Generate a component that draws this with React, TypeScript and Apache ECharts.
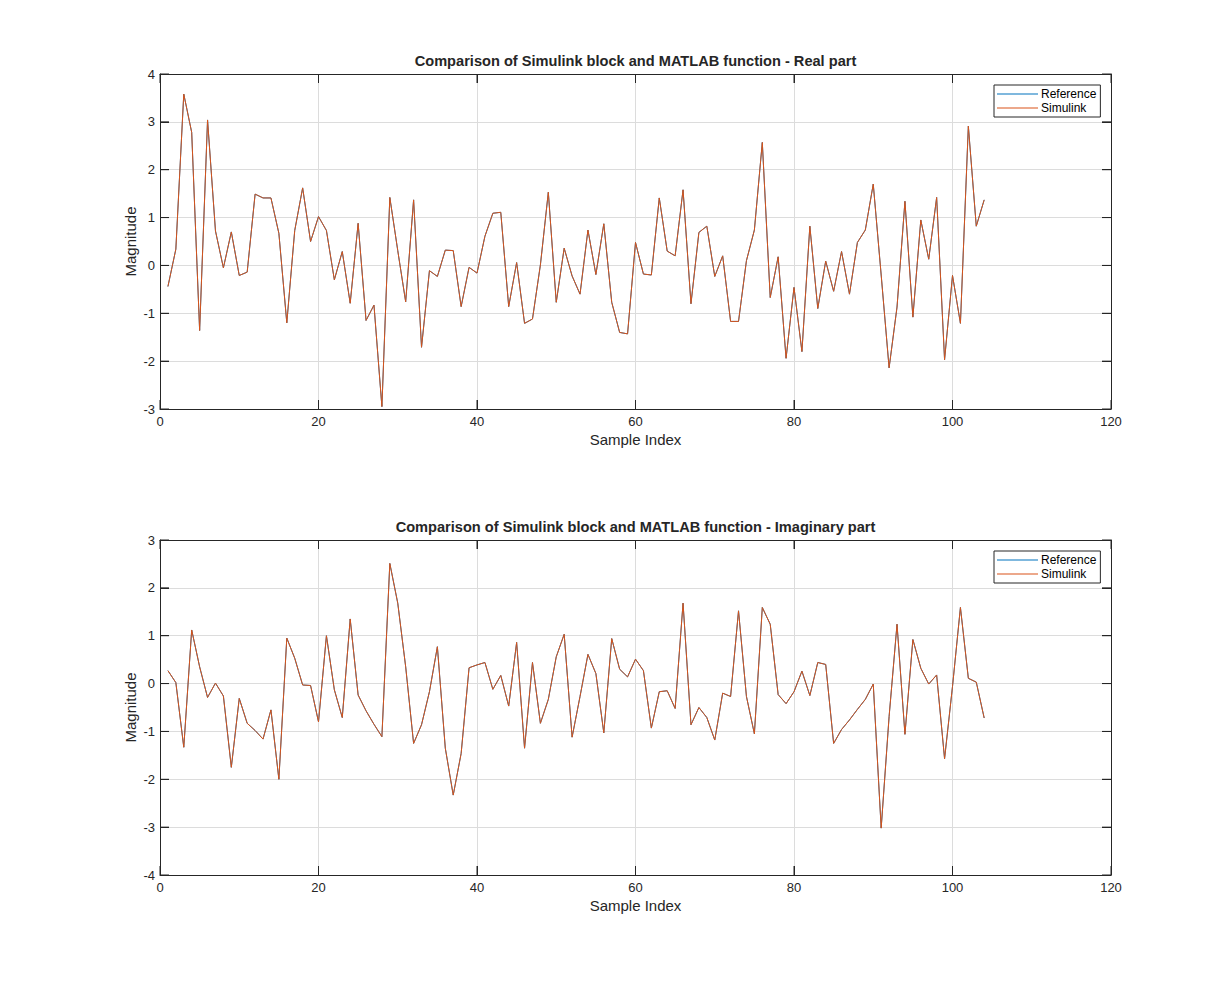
import { useEffect, useRef } from 'react';
import * as echarts from 'echarts';

// sample values (index 1..104)
const realPart = [
  -0.44, 0.34, 3.58, 2.78, -1.36, 3.04, 0.72, -0.05, 0.7, -0.21,
  -0.14, 1.49, 1.41, 1.41, 0.67, -1.2, 0.73, 1.62, 0.5, 1.02,
  0.73, -0.3, 0.29, -0.79, 0.88, -1.15, -0.83, -2.95, 1.42, 0.31,
  -0.76, 1.37, -1.71, -0.11, -0.23, 0.32, 0.31, -0.86, -0.04, -0.16,
  0.61, 1.09, 1.11, -0.86, 0.06, -1.21, -1.12, 0.01, 1.53, -0.77,
  0.36, -0.22, -0.6, 0.74, -0.19, 0.87, -0.77, -1.4, -1.43, 0.48,
  -0.18, -0.2, 1.41, 0.3, 0.2, 1.58, -0.8, 0.69, 0.82, -0.23,
  0.2, -1.17, -1.17, 0.1, 0.74, 2.57, -0.67, 0.18, -1.94, -0.46,
  -1.8, 0.82, -0.9, 0.09, -0.54, 0.29, -0.6, 0.48, 0.74, 1.7,
  -0.2, -2.14, -0.87, 1.34, -1.08, 0.95, 0.13, 1.42, -1.97, -0.21,
  -1.21, 2.91, 0.82, 1.37,
];

const imagPart = [
  0.27, 0.02, -1.33, 1.12, 0.35, -0.29, 0.01, -0.26, -1.75, -0.31,
  -0.83, -0.98, -1.16, -0.55, -2.0, 0.95, 0.53, -0.03, -0.04, -0.8,
  1.0, -0.13, -0.71, 1.35, -0.24, -0.57, -0.85, -1.11, 2.51, 1.68,
  0.35, -1.25, -0.86, -0.17, 0.77, -1.35, -2.33, -1.46, 0.33, 0.39,
  0.44, -0.12, 0.17, -0.47, 0.86, -1.35, 0.44, -0.83, -0.33, 0.56,
  1.03, -1.12, -0.27, 0.61, 0.21, -1.03, 0.94, 0.3, 0.14, 0.51,
  0.27, -0.93, -0.17, -0.15, -0.52, 1.68, -0.86, -0.5, -0.71, -1.18,
  -0.2, -0.27, 1.52, -0.27, -1.05, 1.59, 1.24, -0.23, -0.42, -0.17,
  0.26, -0.25, 0.44, 0.4, -1.25, -0.96, -0.76, -0.54, -0.33, -0.01,
  -3.02, -0.69, 1.24, -1.06, 0.92, 0.32, -0.01, 0.18, -1.57, -0.06,
  1.59, 0.11, 0.03, -0.72,
];

const titles = [
  'Comparison of Simulink block and MATLAB function - Real part',
  'Comparison of Simulink block and MATLAB function - Imaginary part',
];
const xTicks = [0, 20, 40, 60, 80, 100, 120];
const yTicks = [
  [-3, -2, -1, 0, 1, 2, 3, 4],
  [-4, -3, -2, -1, 0, 1, 2, 3],
];
const legendNames = ['Reference', 'Simulink'];
const seriesColors = ['#0072BD', '#D95319'];

const FONT = '"Liberation Sans", Arial, Helvetica, sans-serif';
const INK = '#262626';
const GRID_TOPS = [74, 540];
const GRID_LEFT = 160;
const GRID_W = 951;
const GRID_H = 335;
const TICK_LEN = 9;

const mkTick = () => ({ show: true, inside: true, length: TICK_LEN, lineStyle: { color: INK, width: 1 } });
const mkLine = () => ({ show: true, onZero: false, lineStyle: { color: INK, width: 1 } });
const off = () => ({ show: false });

export default function App() {
  const ref = useRef<HTMLDivElement>(null);

  useEffect(() => {
    if (!ref.current) return;
    const chart = echarts.init(ref.current, undefined, { renderer: 'svg' });
    const sets = [realPart, imagPart];
    const xMin = xTicks[0];
    const xMax = xTicks[xTicks.length - 1];

    // grids 0,1 only carry the light gridlines (drawn first, underneath);
    // grids 2,3 are the same rectangles with the box, ticks, labels and data
    const grids = [...GRID_TOPS, ...GRID_TOPS].map((top) => ({
      left: GRID_LEFT,
      top,
      width: GRID_W,
      height: GRID_H,
    }));

    const label = { color: INK, fontSize: 13, fontFamily: FONT };
    const nameStyle = { color: INK, fontSize: 15, fontFamily: FONT };

    const xAxis: any[] = [];
    const yAxis: any[] = [];

    GRID_TOPS.forEach((_, g) => {
      const yt = yTicks[g];
      xAxis.push({
        type: 'value', min: xMin, max: xMax, interval: 20, gridIndex: g, z: 0,
        axisLine: off(), axisTick: off(), axisLabel: off(),
        splitLine: { show: true, lineStyle: { color: '#dcdcdc', width: 1 } },
      });
      yAxis.push({
        type: 'value', min: yt[0], max: yt[yt.length - 1], interval: 1, gridIndex: g, z: 0,
        axisLine: off(), axisTick: off(), axisLabel: off(),
        splitLine: { show: true, lineStyle: { color: '#dcdcdc', width: 1 } },
      });
    });

    GRID_TOPS.forEach((_, g) => {
      const yt = yTicks[g];
      const gi = g + 2;
      xAxis.push({
        type: 'value', min: xMin, max: xMax, interval: 20, gridIndex: gi, position: 'bottom', z: 4,
        name: 'Sample Index',
        nameLocation: 'middle',
        nameGap: 23,
        nameTextStyle: { ...nameStyle },
        axisLine: mkLine(),
        axisTick: mkTick(),
        axisLabel: { ...label, margin: 6 },
        splitLine: off(),
      });
      xAxis.push({
        type: 'value', min: xMin, max: xMax, interval: 20, gridIndex: gi, position: 'top', z: 4,
        axisLine: mkLine(),
        axisTick: mkTick(),
        axisLabel: off(),
        splitLine: off(),
      });
      yAxis.push({
        type: 'value', min: yt[0], max: yt[yt.length - 1], interval: 1, gridIndex: gi, position: 'left', z: 4,
        name: 'Magnitude',
        nameLocation: 'middle',
        nameGap: 22,
        nameMoveOverlap: false,
        nameTextStyle: { ...nameStyle },
        axisLine: mkLine(),
        axisTick: mkTick(),
        axisLabel: { ...label, margin: 5 },
        splitLine: off(),
      });
      yAxis.push({
        type: 'value', min: yt[0], max: yt[yt.length - 1], interval: 1, gridIndex: gi, position: 'right', z: 4,
        axisLine: mkLine(),
        axisTick: mkTick(),
        axisLabel: off(),
        splitLine: off(),
      });
    });

    const series: any[] = [];
    sets.forEach((vals, g) => {
      const pts = vals.map((v, i) => [i + 1, v]);
      const axisIdx = 2 + g * 2;
      legendNames.forEach((name, k) => {
        series.push({
          name,
          type: 'line',
          xAxisIndex: axisIdx,
          yAxisIndex: axisIdx,
          data: pts,
          symbol: 'none',
          lineStyle: { color: seriesColors[k], width: 1 },
          itemStyle: { color: seriesColors[k] },
        });
      });

      // inward tick marks on all four sides, placed through the axes' own scale
      const yt = yTicks[g];
      const yMin = yt[0];
      const yMax = yt[yt.length - 1];
      const tickData: number[][] = [];
      xTicks.forEach((x) => {
        tickData.push([x, yMin, 0]);
        tickData.push([x, yMax, 1]);
      });
      yt.forEach((y) => {
        tickData.push([xMin, y, 2]);
        tickData.push([xMax, y, 3]);
      });
      series.push({
        type: 'custom',
        xAxisIndex: axisIdx,
        yAxisIndex: axisIdx,
        data: tickData,
        silent: true,
        clip: false,
        z: 10,
        renderItem: (_p: any, api: any) => {
          const [px, py] = api.coord([api.value(0), api.value(1)]);
          const k = api.value(2);
          const dx = k === 2 ? TICK_LEN : k === 3 ? -TICK_LEN : 0;
          const dy = k === 0 ? -TICK_LEN : k === 1 ? TICK_LEN : 0;
          return {
            type: 'line',
            shape: { x1: px, y1: py, x2: px + dx, y2: py + dy },
            style: { stroke: INK, lineWidth: 1 },
          };
        },
      });
    });

    chart.setOption({
      animation: false,
      backgroundColor: '#ffffff',
      title: titles.map((t, g) => ({
        text: t,
        left: GRID_LEFT + GRID_W / 2,
        textAlign: 'center',
        top: GRID_TOPS[g] - 21,
        padding: 0,
        textStyle: { color: INK, fontSize: 14.6, fontWeight: 'bold', fontFamily: FONT },
      })),
      grid: grids,
      xAxis,
      yAxis,
      legend: GRID_TOPS.map((top) => ({
        data: legendNames.map((name) => ({ name, icon: 'rect' })),
        orient: 'vertical',
        left: 994,
        top: top + 11,
        itemWidth: 41,
        itemHeight: 1,
        itemGap: 0,
        padding: [2, 4, 2, 3],
        borderColor: INK,
        borderWidth: 1,
        backgroundColor: '#ffffff',
        selectedMode: false,
        z: 12,
        textStyle: { color: '#000', fontSize: 12, lineHeight: 14, fontFamily: FONT, padding: [0, 0, 0, -2] },
      })),
      series,
    });

    return () => chart.dispose();
  }, []);

  return (
    <div
      ref={ref}
      style={{ position: 'absolute', left: 0, top: 0, width: 1229, height: 984, background: '#fff' }}
    />
  );
}
